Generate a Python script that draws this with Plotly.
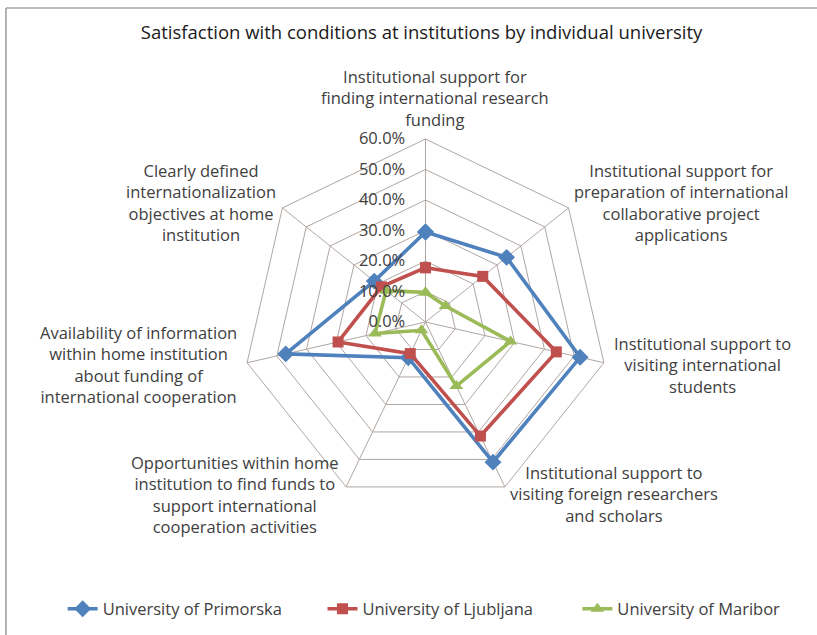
import math
import plotly.graph_objects as go

categories = [
    "Institutional support for<br>finding international research<br>funding",
    "Institutional support for<br>preparation of international<br>collaborative project<br>applications",
    "Institutional support to<br>visiting international<br>students",
    "Institutional support to<br>visiting foreign researchers<br>and scholars",
    "Opportunities within home<br>institution to find funds to<br>support international<br>cooperation activities",
    "Availability of information<br>within home institution<br>about funding of<br>international cooperation",
    "Clearly defined<br>internationalization<br>objectives at home<br>institution",
]
primorska = [29.5, 34.0, 52.0, 51.0, 13.0, 47.0, 21.5]
ljubljana = [17.8, 24.0, 44.0, 41.5, 11.5, 29.4, 18.5]
maribor = [9.7, 8.4, 28.6, 23.3, 3.0, 17.0, 16.5]
series_names = ["University of Primorska", "University of Ljubljana", "University of Maribor"]
radial_ticks = [0, 10, 20, 30, 40, 50, 60]

colors = ["#4F81BD", "#C0504D", "#9BBB59"]
symbols = ["diamond", "square", "triangle-up"]
sizes = [13, 11, 12]
legend_ids = ["legend", "legend2", "legend3"]
legend_x = [0.0767, 0.3947, 0.7067]

W, H = 817, 635
dom_x = [0.2968, 0.7448]
dom_y = [0.2047, 0.7811]

fig = go.Figure()
for name, vals, col, sym, sz, lg in zip(series_names, [primorska, ljubljana, maribor],
                                        colors, symbols, sizes, legend_ids):
    fig.add_trace(go.Scatterpolar(
        r=vals + vals[:1],
        theta=categories + categories[:1],
        mode="lines+markers",
        name=name,
        legend=lg,
        showlegend=True,
        line=dict(color=col, width=3.6),
        marker=dict(symbol=sym, size=sz, color=col),
    ))

# category labels as centred annotations just outside each polygon vertex
cx = (dom_x[0] + dom_x[1]) / 2
cy = (dom_y[0] + dom_y[1]) / 2
R_px = (dom_x[1] - dom_x[0]) * W / 2
label_offsets = [(10, 6, "center", "bottom"), (3, 5, "left", "middle"), (8, -2, "left", "middle"),
                 (3, -7, "left", "middle"), (-5, -8, "right", "middle"), (-8, -2, "right", "middle"),
                 (-4, 5, "right", "middle")]
annotations = []
n = len(categories)
for i, cat in enumerate(categories):
    ang = math.radians(90 - i * 360 / n)
    vx = cx + R_px * math.cos(ang) / W
    vy = cy + R_px * math.sin(ang) / H
    ox, oy, xa, ya = label_offsets[i]
    annotations.append(dict(
        text=cat, xref="paper", yref="paper",
        x=vx + ox / W, y=vy + oy / H,
        xanchor=xa, yanchor=ya, align="center", showarrow=False,
        font=dict(size=16.5, color="#404040"),
    ))

legend_style = dict(orientation="h", xanchor="left", y=0.041, yanchor="middle",
                    font=dict(size=16.5, color="#404040"), itemwidth=30,
                    bgcolor="rgba(0,0,0,0)")

grid = "#B0A6A2"
fig.update_layout(
    width=W, height=H,
    paper_bgcolor="white",
    margin=dict(l=0, r=0, t=0, b=0),
    font=dict(family="Open Sans, sans-serif", size=16, color="#404040"),
    title=dict(text="Satisfaction with conditions at institutions by individual university",
               x=0.516, xanchor="center", y=0.948, yanchor="middle",
               font=dict(size=18.5, color="#1a1a1a")),
    polar=dict(
        domain=dict(x=dom_x, y=dom_y),
        gridshape="linear",
        bgcolor="white",
        radialaxis=dict(range=[0, 60], tickvals=radial_ticks,
                        ticktext=[f"{v:.1f}%" for v in radial_ticks],
                        angle=90, tickangle=90, side="counterclockwise",
                        showline=False, gridcolor=grid,
                        ticks="outside", ticklen=14, tickcolor="rgba(0,0,0,0)",
                        tickfont=dict(size=16.5, color="#404040")),
        angularaxis=dict(direction="clockwise", rotation=90,
                         linecolor=grid, gridcolor=grid, ticks="",
                         showticklabels=False),
    ),
    legend=dict(x=legend_x[0], **legend_style),
    legend2=dict(x=legend_x[1], **legend_style),
    legend3=dict(x=legend_x[2], **legend_style),
    annotations=annotations,
    shapes=[
        dict(type="line", xref="paper", yref="paper", x0=0.0073, x1=0.0073, y0=-0.01, y1=0.9874,
             line=dict(color="#7f7f7f", width=1.2)),
        dict(type="line", xref="paper", yref="paper", x0=0.0073, x1=1.0, y0=0.9874, y1=0.9874,
             line=dict(color="#7f7f7f", width=1.2)),
    ],
)

fig.write_html("out.html", config={"displayModeBar": False},
               post_script="document.body.style.margin='0px';")
